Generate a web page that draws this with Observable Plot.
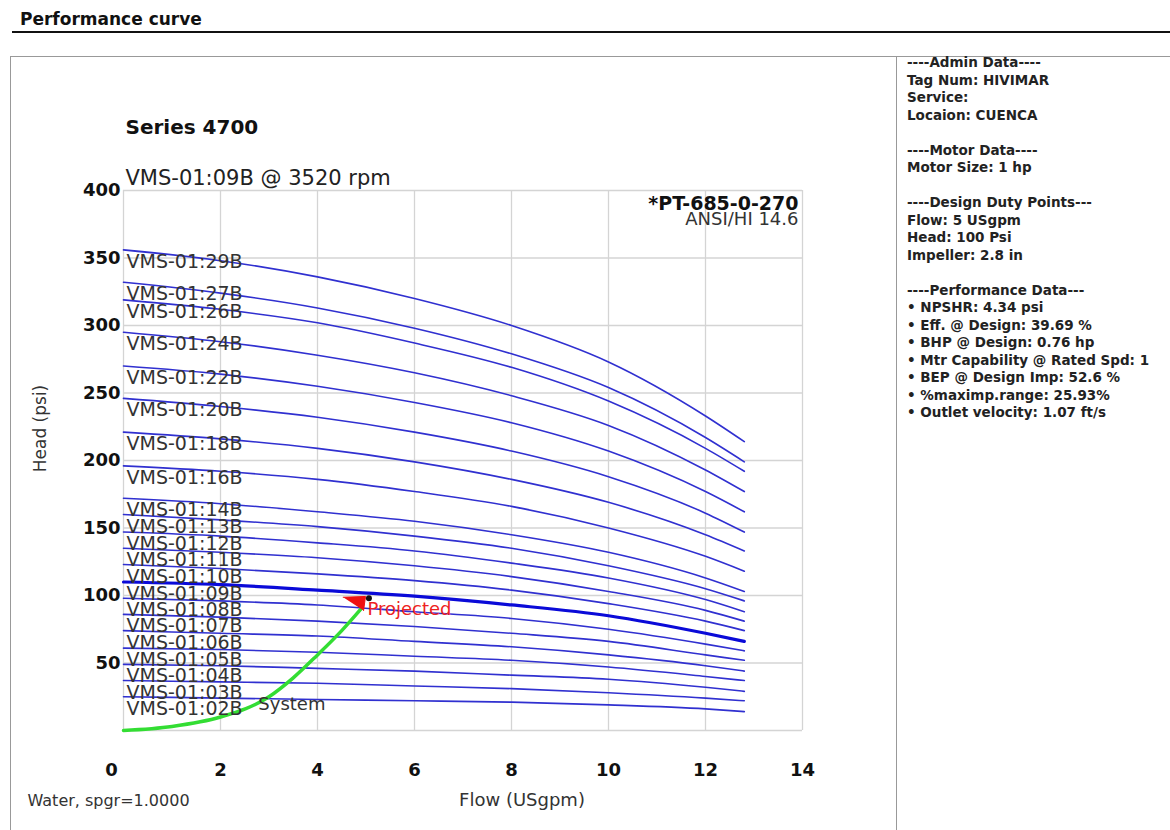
<!DOCTYPE html>
<html>
<head>
<meta charset="utf-8">
<script src="https://cdn.jsdelivr.net/npm/d3@7"></script>
<script src="https://cdn.jsdelivr.net/npm/@observablehq/plot@0.6"></script>
<style>
  body { margin: 0; background: #fff; font-family: "DejaVu Sans", sans-serif; }
  #page { position: relative; width: 1170px; height: 830px; overflow: hidden; background: #fff; }
  #chart { position: absolute; left: 0; top: 0; }
  #title { position: absolute; left: 20px; top: 9px; font: bold 17px "DejaVu Sans", sans-serif; color: #111; }
  #rule { position: absolute; left: 12px; top: 31px; width: 1160px; height: 2px; background: #111; }
  #box { position: absolute; left: 10px; top: 56px; width: 887px; height: 820px; border: 1px solid #999; box-sizing: border-box; }
  #panel { position: absolute; left: 896px; top: 56px; width: 290px; height: 820px; border-top: 1px solid #999; border-left: 1px solid #999; box-sizing: border-box; }
  #info { position: absolute; left: 907px; top: 54px; font: bold 13.5px "DejaVu Sans", sans-serif; line-height: 17.5px; color: #222; white-space: pre; }
</style>
</head>
<body>
<div id="page">
  <div id="chart"></div>
  <div id="title">Performance curve</div>
  <div id="rule"></div>
  <div id="box"></div>
  <div id="panel"></div>
  <div id="info"></div>
</div>
<script>
// ---- data ----
const flowPoints = [0, 2, 4, 6, 8, 10, 12, 12.8];
const curveNames = ["VMS-01:29B", "VMS-01:27B", "VMS-01:26B", "VMS-01:24B", "VMS-01:22B", "VMS-01:20B",
  "VMS-01:18B", "VMS-01:16B", "VMS-01:14B", "VMS-01:13B", "VMS-01:12B", "VMS-01:11B", "VMS-01:10B",
  "VMS-01:09B", "VMS-01:08B", "VMS-01:07B", "VMS-01:06B", "VMS-01:05B", "VMS-01:04B", "VMS-01:03B", "VMS-01:02B"];
const curveHeads = [
  [356, 348, 336, 320, 300, 273, 233, 214],
  [332, 324, 313, 298, 279, 254, 217, 199],
  [319, 312, 302, 287, 269, 244, 209, 192],
  [295, 288, 278, 265, 248, 226, 193, 177],
  [270, 264, 255, 243, 228, 207, 177, 162],
  [246, 240, 232, 221, 207, 188, 161, 147],
  [221, 216, 209, 199, 186, 169, 145, 133],
  [196, 192, 186, 177, 166, 150, 129, 118],
  [172, 168, 162, 155, 145, 132, 113, 103],
  [160, 156, 151, 144, 135, 122, 105, 96],
  [147, 144, 139, 133, 124, 113, 97, 88],
  [135, 132, 128, 122, 114, 103, 89, 81],
  [123, 120, 116, 111, 104, 94, 81, 74],
  [110, 108, 104, 99.5, 93, 85, 72, 66],
  [98, 96, 93, 88, 83, 75, 64, 59],
  [86, 84, 81, 77, 72, 66, 56, 52],
  [74, 72, 70, 66, 62, 56, 48, 44],
  [61, 60, 58, 55, 52, 47, 40, 37],
  [49, 48, 46, 44, 41, 38, 32, 29],
  [37, 36, 35, 33, 31, 28, 24, 22],
  [25, 24, 23, 22, 21, 19, 16, 14]
];
const selectedCurve = "VMS-01:09B";
const systemFlow = [0, 1, 2, 3, 3.5, 4, 4.5, 4.92];
const systemHead = [0, 3, 10, 25, 39, 56, 74, 91];
const arrowFlow = [4.53, 4.99, 4.95];
const arrowHead = [98.7, 99.3, 88.9];
const dutyFlow = 5.06, dutyHead = 98;
const xTicks = [0, 2, 4, 6, 8, 10, 12, 14];
const yTicks = [50, 100, 150, 200, 250, 300, 350, 400];
const gridYTicks = [0, 50, 100, 150, 200, 250, 300, 350, 400];
const infoLines = [
  "----Admin Data----", "Tag Num: HIVIMAR", "Service:", "Locaion: CUENCA", "",
  "----Motor Data----", "Motor Size: 1 hp", "",
  "----Design Duty Points---", "Flow: 5 USgpm", "Head: 100 Psi", "Impeller: 2.8 in", "",
  "----Performance Data---", "• NPSHR: 4.34 psi", "• Eff. @ Design: 39.69 %", "• BHP @ Design: 0.76 hp",
  "• Mtr Capability @ Rated Spd: 1", "• BEP @ Design Imp: 52.6 %", "• %maximp.range: 25.93%",
  "• Outlet velocity: 1.07 ft/s"
];

// ---- build tables ----
const curveRows = [];
curveNames.forEach((name, i) => {
  flowPoints.forEach((q, j) => curveRows.push({name, flow: q, head: curveHeads[i][j]}));
});
const labelRows = curveNames.map((name, i) => ({name, flow: flowPoints[0], head: curveHeads[i][0]}));
const systemRows = systemFlow.map((q, i) => ({flow: q, head: systemHead[i]}));
const arrowRows = arrowFlow.map((q, i) => ({flow: q, head: arrowHead[i]}));

document.getElementById("info").textContent = infoLines.join("\n");

const FF = "DejaVu Sans, sans-serif";
const chart = Plot.plot({
  width: 900,
  height: 830,
  marginLeft: 123,
  marginRight: 98,
  marginTop: 190,
  marginBottom: 100,
  style: {fontFamily: FF, background: "transparent", color: "#111"},
  x: {domain: [0, 14], label: null},
  y: {domain: [0, 400], label: null},
  marks: [
    Plot.gridX({ticks: xTicks, stroke: "#d4d4d4", strokeOpacity: 1, strokeWidth: 1.3}),
    Plot.gridY({ticks: gridYTicks, stroke: "#d4d4d4", strokeOpacity: 1, strokeWidth: 1.3}),
    Plot.axisX({ticks: xTicks.filter(d => d !== 0), tickSize: 0, tickPadding: 33, fontSize: 18, fontWeight: "bold", label: null}),
    Plot.axisX({ticks: [0], tickSize: 0, tickPadding: 33, dx: -12, fontSize: 18, fontWeight: "bold", label: null}),
    Plot.axisY({ticks: yTicks, tickSize: 0, tickPadding: 3, fontSize: 18, fontWeight: "bold", label: null}),
    Plot.line(curveRows.filter(d => d.name !== selectedCurve), {x: "flow", y: "head", z: "name", stroke: "#3030d0", strokeWidth: 1.6, curve: "monotone-x"}),
    Plot.line(curveRows.filter(d => d.name === selectedCurve), {x: "flow", y: "head", stroke: "#0a0ad8", strokeWidth: 3.2, curve: "monotone-x"}),
    Plot.line(systemRows, {x: "flow", y: "head", stroke: "#33dd33", strokeWidth: 3.5, curve: "monotone-x"}),
    Plot.line(arrowRows, {x: "flow", y: "head", fill: "#ee1111", stroke: "#ee1111", strokeWidth: 1}),
    Plot.dot([{flow: dutyFlow, head: dutyHead}], {x: "flow", y: "head", r: 3, fill: "#111"}),
    Plot.text(labelRows, {x: "flow", y: "head", text: "name", dx: 3, dy: 12, textAnchor: "start", fontSize: 19, fill: "#333"}),
    Plot.text([{flow: 5.03, head: 89.6}], {x: "flow", y: "head", text: () => "Projected", textAnchor: "start", fontSize: 18, fill: "#ee2222"}),
    Plot.text([{flow: 2.78, head: 19.3}], {x: "flow", y: "head", text: () => "System", textAnchor: "start", fontSize: 18, fill: "#333"}),
    Plot.text(["Series 4700"], {text: d => d, frameAnchor: "top-left", lineAnchor: "middle", dx: 2, dy: -63, textAnchor: "start", fontSize: 20, fontWeight: "bold", fill: "#111"}),
    Plot.text(["VMS-01:09B @ 3520 rpm"], {text: d => d, frameAnchor: "top-left", lineAnchor: "middle", dx: 2, dy: -12, textAnchor: "start", fontSize: 21, fill: "#222"}),
    Plot.text(["*PT-685-0-270"], {text: d => d, frameAnchor: "top-right", lineAnchor: "middle", dx: -4, dy: 13, textAnchor: "end", fontSize: 19, fontWeight: "bold", fill: "#111"}),
    Plot.text(["ANSI/HI 14.6"], {text: d => d, frameAnchor: "top-right", lineAnchor: "middle", dx: -4, dy: 29, textAnchor: "end", fontSize: 18, fill: "#333"}),
    Plot.text(["Head (psi)"], {text: d => d, frameAnchor: "left", lineAnchor: "middle", textAnchor: "middle", dx: -83, dy: -32, rotate: -90, fontSize: 17, fill: "#333"}),
    Plot.text(["Flow (USgpm)"], {text: d => d, frameAnchor: "bottom", lineAnchor: "middle", textAnchor: "middle", dx: 59, dy: 70, fontSize: 18, fill: "#333"}),
    Plot.text(["Water, spgr=1.0000"], {text: d => d, frameAnchor: "bottom-left", lineAnchor: "middle", dx: -96, dy: 70, textAnchor: "start", fontSize: 16, fill: "#333"})
  ]
});
document.getElementById("chart").appendChild(chart);
</script>
</body>
</html>
